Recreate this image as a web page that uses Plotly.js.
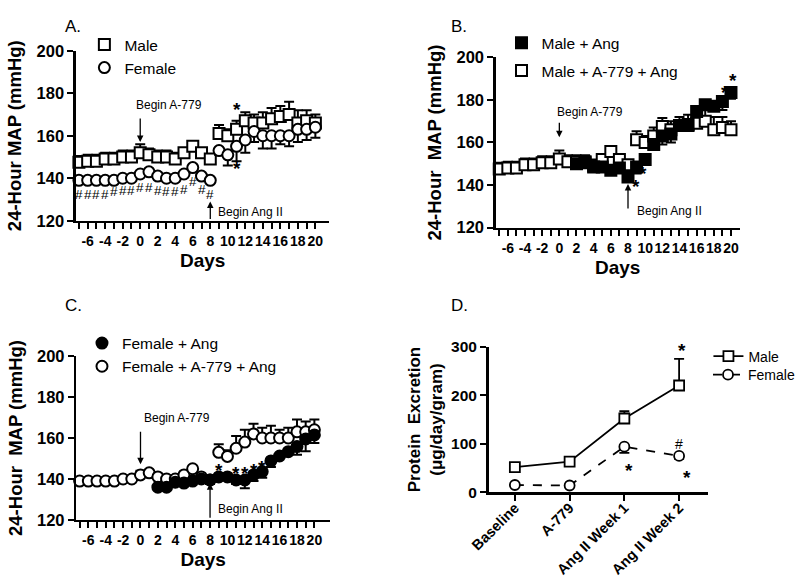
<!DOCTYPE html>
<html><head><meta charset="utf-8">
<script src="https://cdn.plot.ly/plotly-3.0.1.min.js"></script>
<style>html,body{margin:0;padding:0;background:#fff;overflow:hidden}#chart{width:800px;height:581px}</style>
</head><body><div id="chart"></div>
<script>
// ---------- data ----------
const days = [-7,-6,-5,-4,-3,-2,-1,0,1,2,3,4,5,6,7,8,9,10,11,12,13,14,15,16,17,18,19,20];
const dayTickLabels = ['', '-6', '', '-4', '', '-2', '', '0', '', '2', '', '4', '', '6', '', '8', '', '10', '', '12', '', '14', '', '16', '', '18', '', '20'];

// Panel A
const maleA      = [147.5,148,148,149,149,150,150,152,151,150,150,149,152,155,152,149,161,160,163,167,166,166,168,169,170,166,167,166];
const maleAErr   = [3,3,3,3,3,3,3,4,3,3,3,3,2,2,2,2,4,3,4,4,4,5,5,5,6,6,5,4];
const femaleA    = [139,139,139,139,139,140,140,142,143,141,140,140,142,145,141,139,153,151,155,158,162,160,160,160,160,163,163,164];
const femaleAErr = [1,1,1,1,1,1,1,1,1,1,1,1,1,1,1,1,2,5,7,6,5,6,6,4,5,6,5,5];

// Panel B
const maleA779Ang    = [147.5,148,148,149.5,149.5,150.5,150.5,152.2,151,151,151,149,152,155.8,152,149.5,161.3,160,163,167.5,166,168,168,169,170,166,167,166];
const maleA779AngErr = [3,3,3,3,3,3,3,4,3,3,3,3,2,2,2,2,4,3,4,4,4,4,5,5,6,6,5,4];
const maleAng        = [null,null,null,null,null,null,null,null,null,150,150.5,148.5,148.5,147,148,143.8,148.5,152,159,163,164,168,168.5,174.5,177.7,177,179.2,183.5];
const maleAngErr     = [0,0,0,0,0,0,0,0,0,2,2,1,1,1,2,2,3,1,2,4,4,2,2,1,1,2,4,3];

// Panel C
const femaleA779Ang    = [139,139,139,139,139,140,140,142,143,141,140,140,142,145,141,139.5,153,151,155,158,162,160,160,160,160,163,163,164];
const femaleA779AngErr = [1,1,1,1,1,1,1,2,1,1,1,1,1,1,1,1,4,3,6,6,5,5,6,4,5,6,5,5];
const femaleAng        = [null,null,null,null,null,null,null,null,null,136,136,138.4,138,139,140,139.5,141,141,139.5,139.5,142,143.6,148.8,151.2,153.3,155.8,159.5,161.5];
const femaleAngErr     = [0,0,0,0,0,0,0,0,0,1,1,1,1,1,1,2,1,1,2,4,3,3,3,1,1,4,6,4];

// Panel D
const periods      = ['Baseline','A-779','Ang II Week 1','Ang II Week 2'];
const maleProt     = [52,63,152,220];
const maleProtErr  = [3,3,15,55];
const femaleProt   = [15,14,94,75];
const femaleProtErr= [2,2,13,6];

// significance marks (day, value)
const hashDaysA = [-7,-6,-5,-4,-3,-2,-1,0,1,2,3,4,5,6,7,8];
const hashYA    = [132.5,132.5,132.5,132.5,133.6,134.4,134.4,135.7,135.7,134.4,133.6,133.6,134.7,138.4,134.7,132.5];

// ---------- style ----------
const FONT = 'Liberation Sans, Arial, sans-serif';
const BOLD = 'Liberation Sans, Arial, sans-serif';

function xDays(domain, range){
  return {domain:domain, range:range, showline:true, linewidth:2.5, linecolor:'#000',
    ticks:'outside', ticklen:6, tickwidth:2, tickcolor:'#000', tickmode:'array', tickangle:0,
    tickvals:days, ticktext:dayTickLabels, showgrid:false, zeroline:false,
    tickfont:{family:BOLD, size:14, color:'#000', weight:'bold'},
    title:{text:'<b>Days</b>', font:{family:BOLD, size:19, color:'#000'}, standoff:6}};
}
function yMap(domain, titleText){
  return {domain:domain, range:[120,200], showline:true, linewidth:2.5, linecolor:'#000',
    ticks:'outside', ticklen:6, tickwidth:2, tickcolor:'#000', tickvals:[120,140,160,180,200],
    showgrid:false, zeroline:false,
    tickfont:{family:BOLD, size:16.5, color:'#000', weight:'bold'},
    title:{text:'<b>'+titleText+'</b>', font:{family:BOLD, size:18.5, color:'#000'}, standoff:10}};
}

function tr(x, y, up, down, sym, fill, name, xa, ya, leg, size){
  return {x:x, y:y, type:'scatter', mode:'markers', name:name, xaxis:xa, yaxis:ya,
    legend:leg, cliponaxis:false,
    marker:{symbol:sym, size:size||11, color:fill, line:{color:'#000', width:2}},
    error_y:{type:'data', symmetric:false, array:up, arrayminus:down, color:'#000', thickness:2, width:5}};
}
const zeros = days.map(()=>0);

const traces = [
  tr(days, maleA, maleAErr, zeros, 'square', '#fff', 'Male', 'x', 'y', 'legend'),
  tr(days, femaleA, zeros, femaleAErr, 'circle', '#fff', 'Female', 'x', 'y', 'legend'),
  tr(days, maleA779Ang, maleA779AngErr, zeros, 'square', '#fff', 'Male + A-779 + Ang', 'x2', 'y2', 'legend5'),
  tr(days, maleAng, zeros, maleAngErr, 'square', '#000', 'Male + Ang', 'x2', 'y2', 'legend2'),
  tr(days, femaleA779Ang, femaleA779AngErr, zeros, 'circle', '#fff', 'Female + A-779 + Ang', 'x3', 'y3', 'legend3'),
  tr(days, femaleAng, zeros, femaleAngErr, 'circle', '#000', 'Female + Ang', 'x3', 'y3', 'legend3'),
  {x:periods, y:maleProt, type:'scatter', mode:'lines+markers', name:'Male', xaxis:'x4', yaxis:'y4', legend:'legend4',
   line:{color:'#000', width:1.8}, marker:{symbol:'square', size:10, color:'#fff', line:{color:'#000', width:1.8}},
   error_y:{type:'data', symmetric:false, array:maleProtErr, arrayminus:[0,0,0,0], color:'#000', thickness:1.8, width:5}},
  {x:periods, y:femaleProt, type:'scatter', mode:'lines+markers', name:'Female', xaxis:'x4', yaxis:'y4', legend:'legend6',
   line:{color:'#000', width:1.8, dash:'dash'}, marker:{symbol:'circle', size:10, color:'#fff', line:{color:'#000', width:1.8}},
   error_y:{type:'data', symmetric:false, array:[0,0,0,0], arrayminus:femaleProtErr, color:'#000', thickness:1.8, width:5}}
];
// legend order: filled first in C
traces[4].legendrank = 2; traces[5].legendrank = 1;

const ann = [];
function txt(x, y, text, xref, yref, size, opts){
  ann.push(Object.assign({x:x, y:y, text:text, xref:xref, yref:yref, showarrow:false,
    font:{family:FONT, size:size, color:'#000'}}, opts||{}));
}
function arrow(x, y, ay, xref, yref){
  ann.push({x:x, y:y, ax:0, ay:ay, xref:xref, yref:yref, text:'', showarrow:true,
    arrowhead:2, arrowsize:1, arrowwidth:1.3, arrowcolor:'#000'});
}
// panel letters
txt(0.079, 0.974, 'A.', 'paper', 'paper', 17);
txt(0.577, 0.974, 'B.', 'paper', 'paper', 17);
txt(0.079, 0.475, 'C.', 'paper', 'paper', 17);
txt(0.577, 0.475, 'D.', 'paper', 'paper', 17);

// Panel A annotations
txt(3.3, 174.4, 'Begin A-779', 'x', 'y', 12);
arrow(0, 157, -25, 'x', 'y');
txt(8.7, 124.3, 'Begin Ang II', 'x', 'y', 12, {xanchor:'left'});
arrow(8, 129, 19, 'x', 'y');
hashDaysA.forEach((d,i)=>txt(d, hashYA[i], '#', 'x', 'y', 13.5));
txt(11, 172.5, '<b>*</b>', 'x', 'y', 19);
txt(11.1, 144.5, '<b>*</b>', 'x', 'y', 19);

// Panel B annotations
txt(3.6, 174.3, 'Begin A-779', 'x2', 'y2', 12);
arrow(0, 162.5, -16, 'x2', 'y2');
txt(8.8, 127.8, 'Begin Ang II', 'x2', 'y2', 12, {xanchor:'left'});
arrow(8, 140.5, 26, 'x2', 'y2');
txt(8.9, 139.5, '<b>*</b>', 'x2', 'y2', 19);
txt(9.8, 145.5, '<b>*</b>', 'x2', 'y2', 19);
txt(19.3, 183.5, '<b>*</b>', 'x2', 'y2', 19);
txt(20.2, 189, '<b>*</b>', 'x2', 'y2', 19);

// Panel C annotations
txt(4.15, 169.6, 'Begin A-779', 'x3', 'y3', 12);
arrow(0, 147.2, -34, 'x3', 'y3');
txt(8.7, 125.2, 'Begin Ang II', 'x3', 'y3', 12, {xanchor:'left'});
arrow(8, 137.9, 36, 'x3', 'y3');
txt(9, 144, '<b>*</b>', 'x3', 'y3', 19);
txt(11, 142.5, '<b>*</b>', 'x3', 'y3', 19);
txt(12, 142.5, '<b>*</b>', 'x3', 'y3', 19);
txt(13, 144, '<b>*</b>', 'x3', 'y3', 19);
txt(14, 145.5, '<b>*</b>', 'x3', 'y3', 19);

// Panel D annotations
txt('Ang II Week 2', 292, '<b>*</b>', 'x4', 'y4', 19, {xshift:3});
txt('Ang II Week 2', 100, '#', 'x4', 'y4', 14);
txt('Ang II Week 1', 45, '<b>*</b>', 'x4', 'y4', 19, {xshift:5});
txt('Ang II Week 2', 30, '<b>*</b>', 'x4', 'y4', 19, {xshift:8});

function leg(x, y, size){
  return {x:x, y:y, xanchor:'left', yanchor:'top', font:{family:FONT, size:size, color:'#000'},
    bgcolor:'rgba(0,0,0,0)', itemwidth:30};
}

const layout = {
  width:800, height:581, margin:{l:0, r:0, t:0, b:0}, paper_bgcolor:'#fff', plot_bgcolor:'rgba(0,0,0,0)',
  font:{family:FONT, color:'#000'},
  xaxis: xDays([0.0954, 0.4138], [-7.34, 21.6]),
  yaxis: Object.assign(yMap([0.6201, 0.9127], '24-Hour MAP (mmHg)'), {anchor:'x'}),
  xaxis2: Object.assign(xDays([0.6229, 0.9291], [-7.4, 21]), {anchor:'y2'}),
  yaxis2: Object.assign(yMap([0.6081, 0.9014], '24-Hour&nbsp; MAP (mmHg)'), {anchor:'x2'}),
  xaxis3: Object.assign(xDays([0.0959, 0.4146], [-7.38, 21.8]), {anchor:'y3'}),
  yaxis3: Object.assign(yMap([0.105, 0.3873], '24-Hour&nbsp; MAP (mmHg)'), {anchor:'x3'}),
  xaxis4: {domain:[0.6138, 0.8896], range:[-0.48, 3.53], anchor:'y4', type:'category',
    showline:true, linewidth:2.5, linecolor:'#000', ticks:'outside', ticklen:6, tickwidth:2, tickcolor:'#000',
    tickangle:-45, showgrid:false, zeroline:false, ticklabelstandoff:-7,
    tickfont:{family:BOLD, size:14.5, color:'#000', weight:'bold'}},
  yaxis4: {domain:[0.1527, 0.4033], range:[0,300], anchor:'x4', tickvals:[0,100,200,300],
    showline:true, linewidth:2.5, linecolor:'#000', ticks:'outside', ticklen:6, tickwidth:2, tickcolor:'#000',
    showgrid:false, zeroline:false,
    tickfont:{family:BOLD, size:15.5, color:'#000', weight:'bold'},
    title:{text:'<b>Protein&nbsp; Excretion<br>(μg/day/gram)</b>', font:{family:BOLD, size:17, color:'#000'}, standoff:4}},
  legend:  leg(0.106, 0.952, 15.5),
  legend2: leg(0.63, 0.955, 15.5),
  legend5: leg(0.63, 0.907, 15.5),
  legend3: leg(0.103, 0.438, 15.5),
  legend4: leg(0.89, 0.414, 14),
  legend6: leg(0.89, 0.382, 14),
  annotations: ann,
  showlegend:true
};
Plotly.newPlot('chart', traces, layout, {staticPlot:true, displayModeBar:false});
</script>
</body></html>
